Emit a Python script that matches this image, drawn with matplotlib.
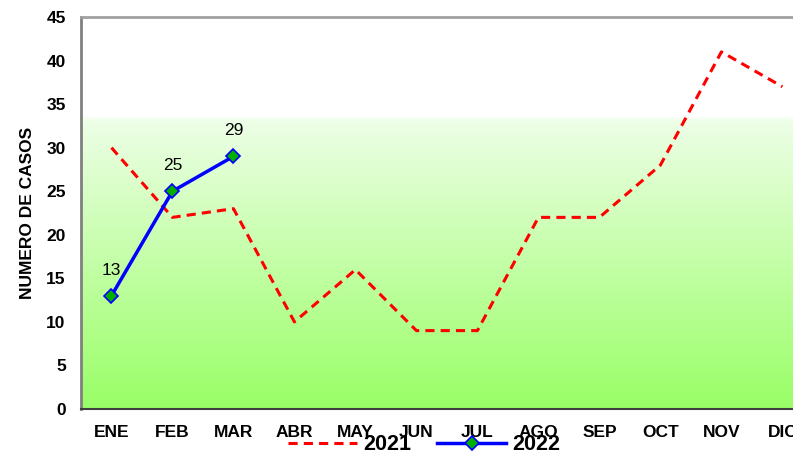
import matplotlib as mpl
mpl.use('Agg')
import matplotlib.pyplot as plt
import numpy as np
from matplotlib.colors import LinearSegmentedColormap

plt.rcParams['font.family'] = ['Liberation Sans', 'DejaVu Sans']

meses = ['ENE', 'FEB', 'MAR', 'ABR', 'MAY', 'JUN', 'JUL', 'AGO', 'SEP', 'OCT', 'NOV', 'DIC']
casos_2021 = [30, 22, 23, 10, 16, 9, 9, 22, 22, 28, 41, 37]
casos_2022 = [13, 25, 29]

fig = plt.figure(figsize=(7.93, 4.54), dpi=100)
# el eje se sale por la derecha como en la imagen original
ax = fig.add_axes([0.1021, 0.0991, 0.923, 0.8634])

x = np.arange(len(meses))
ax.set_xlim(-0.5, len(meses) - 0.5)
ax.set_ylim(0, 45)

# fondo degradado: blanco arriba, verde abajo
cmap = LinearSegmentedColormap.from_list('fondo', [
    (0.0, '#99ff66'), (0.735, '#edfee6'), (0.75, '#ffffff'), (1.0, '#ffffff')])
grad = np.linspace(0, 1, 256).reshape(-1, 1)
ax.imshow(grad, aspect='auto', cmap=cmap, origin='lower',
          extent=[-0.5, len(meses) - 0.5, 0, 45], zorder=0)

l1, = ax.plot(x, casos_2021, color='red', linestyle='--', linewidth=2.2,
              dashes=(3, 2), label='2021', zorder=2)
l2, = ax.plot(x[:len(casos_2022)], casos_2022, color='blue', linewidth=2.5,
              marker='D', markersize=7.5, markerfacecolor='#00b000',
              markeredgecolor='blue', markeredgewidth=1.2, label='2022', zorder=3)

for xi, v in zip(x, casos_2022):
    ax.annotate(str(v), (xi, v), xytext=(0, 13), textcoords='offset points',
                ha='center', va='bottom', fontsize=12.5)

ax.set_xticks(x)
ax.set_xticklabels(meses, fontsize=12.5, fontweight='bold')
ax.set_yticks(range(0, 46, 5))
ax.set_yticklabels([str(v) for v in range(0, 46, 5)], fontsize=12.5, fontweight='bold')
ax.tick_params(axis='x', length=0, pad=11.5)
ax.tick_params(axis='y', length=0, pad=11)
ax.set_ylabel('NUMERO DE CASOS', fontsize=12.5, fontweight='bold', labelpad=8)

ax.spines['left'].set_color('#808080')
ax.spines['left'].set_linewidth(2)
ax.spines['top'].set_color('#a0a0a0')
ax.spines['top'].set_linewidth(2)
ax.spines['bottom'].set_color('#404040')
ax.spines['bottom'].set_linewidth(1.5)
ax.spines['right'].set_visible(False)

leg = fig.legend(handles=[l1, l2], loc='center', bbox_to_anchor=(0.535, 0.02),
                 ncol=2, frameon=False, prop={'weight': 'bold', 'size': 15.5},
                 handlelength=3.2, handletextpad=0.3, columnspacing=1.2)

fig.savefig('out.png', dpi=100)
